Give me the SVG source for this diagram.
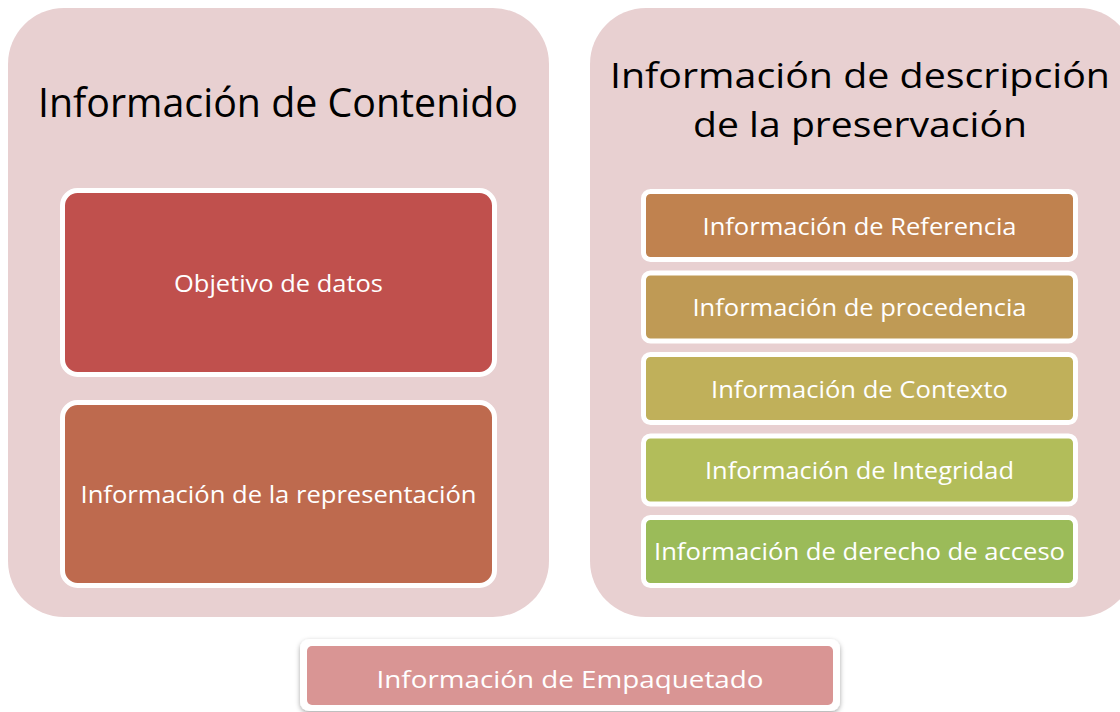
<svg xmlns="http://www.w3.org/2000/svg" width="1120" height="712" viewBox="0 0 1120 712">
<defs>
<style>
.panel{fill:#E8D0D1;}
.box{stroke:#FFFFFF;stroke-width:5;}
.title{font-family:"Open Sans","Noto Sans","Liberation Sans",sans-serif;font-size:40px;fill:#000000;text-anchor:middle;}
.title2{font-size:35px;}
.lbl{font-family:"Open Sans","Noto Sans","Liberation Sans",sans-serif;font-size:24px;fill:#FFFFFF;text-anchor:middle;dominant-baseline:central;}
</style>
<filter id="sh" x="-10%" y="-30%" width="120%" height="160%">
<feDropShadow dx="0" dy="2" stdDeviation="2.5" flood-color="#000000" flood-opacity="0.35"/>
</filter>
</defs>
<rect width="1120" height="712" fill="#FFFFFF"/>
<g id="contenido">
<rect class="panel" x="8" y="8" width="541" height="609" rx="56"/>
<text class="title" x="278" y="117" textLength="480" lengthAdjust="spacingAndGlyphs">Información de Contenido</text>
</g>
<g id="objetivo">
<rect class="box" x="62.5" y="190.5" width="432" height="184" rx="15" fill="#C0504D"/>
<text class="lbl" x="278.5" y="282" textLength="209" lengthAdjust="spacingAndGlyphs">Objetivo de datos</text>
</g>
<g id="representacion">
<rect class="box" x="62.5" y="402.5" width="432" height="183" rx="15" fill="#BE6A4E"/>
<text class="lbl" x="278.5" y="493" textLength="396" lengthAdjust="spacingAndGlyphs">Información de la representación</text>
</g>
<g id="preservacion">
<rect class="panel" x="590" y="8" width="545" height="609" rx="56"/>
<text class="title title2" x="860" y="88" textLength="500" lengthAdjust="spacingAndGlyphs">Información de descripción</text>
<text class="title title2" x="860" y="137" textLength="334" lengthAdjust="spacingAndGlyphs">de la preservación</text>
</g>
<g id="referencia">
<rect class="box" x="643.5" y="191.5" width="432" height="68" rx="7" fill="#C0824F"/>
<text class="lbl" x="859.5" y="225" textLength="314" lengthAdjust="spacingAndGlyphs">Información de Referencia</text>
</g>
<g id="procedencia">
<rect class="box" x="643.5" y="273" width="432" height="68" rx="7" fill="#BF9A55"/>
<text class="lbl" x="859.5" y="306" textLength="334" lengthAdjust="spacingAndGlyphs">Información de procedencia</text>
</g>
<g id="contexto">
<rect class="box" x="643.5" y="354.5" width="432" height="68" rx="7" fill="#C0B05A"/>
<text class="lbl" x="859.5" y="388" textLength="297" lengthAdjust="spacingAndGlyphs">Información de Contexto</text>
</g>
<g id="integridad">
<rect class="box" x="643.5" y="436" width="432" height="68" rx="7" fill="#B2BD5A"/>
<text class="lbl" x="859.5" y="469" textLength="309" lengthAdjust="spacingAndGlyphs">Información de Integridad</text>
</g>
<g id="derecho">
<rect class="box" x="643.5" y="517.5" width="432" height="68" rx="7" fill="#9BBB59"/>
<text class="lbl" x="859.5" y="550" textLength="411" lengthAdjust="spacingAndGlyphs">Información de derecho de acceso</text>
</g>
<g id="empaquetado">
<rect x="300" y="639" width="540" height="72" rx="9" fill="#FFFFFF" filter="url(#sh)"/>
<rect x="307" y="646" width="526" height="59" rx="5" fill="#D99594"/>
<text class="lbl" x="570" y="678" textLength="387" lengthAdjust="spacingAndGlyphs">Información de Empaquetado</text>
</g>
<g id="connectors"></g>
</svg>
